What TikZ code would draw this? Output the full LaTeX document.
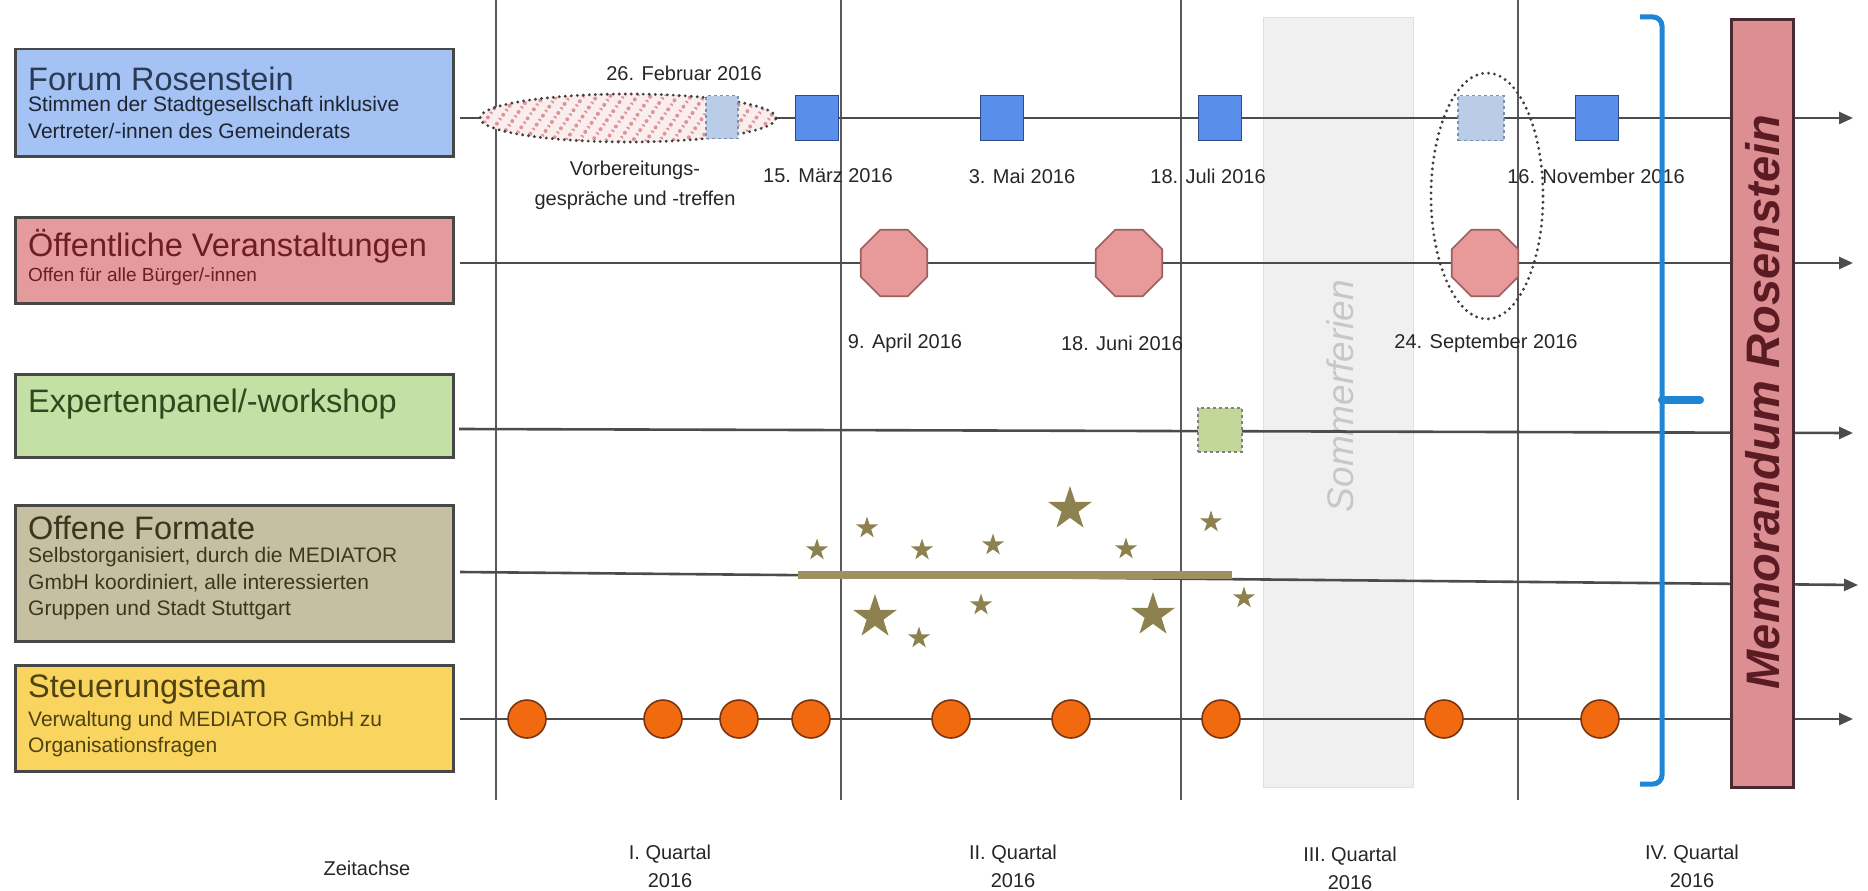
\documentclass[tikz,border=0pt]{standalone}
\usepackage{fontspec}
\setmainfont{Liberation Sans}
\usetikzlibrary{shapes.geometric,patterns.meta,arrows.meta}
\definecolor{boxborder}{HTML}{474747}
\definecolor{forumfill}{HTML}{A4C2F4}
\definecolor{forumtext}{HTML}{2B3A55}
\definecolor{forumsub}{HTML}{1E2430}
\definecolor{oefffill}{HTML}{E59A9B}
\definecolor{oefftext}{HTML}{6E1E22}
\definecolor{expfill}{HTML}{C5E0A5}
\definecolor{exptext}{HTML}{2D4A1E}
\definecolor{offfill}{HTML}{C6C0A2}
\definecolor{offtext}{HTML}{3B3620}
\definecolor{steuerfill}{HTML}{F9D45F}
\definecolor{steuertext}{HTML}{4D4210}
\definecolor{sqfill}{HTML}{5A8EEB}
\definecolor{sqborder}{HTML}{2F4C8C}
\definecolor{lightfill}{HTML}{B9CDE8}
\definecolor{lightborder}{HTML}{7E8FAA}
\definecolor{expsq}{HTML}{C4D79B}
\definecolor{octfill}{HTML}{E8999A}
\definecolor{octborder}{HTML}{9A5F5F}
\definecolor{dotfill}{HTML}{F26A10}
\definecolor{dotborder}{HTML}{7A3510}
\definecolor{starfill}{HTML}{8E8150}
\definecolor{barcol}{HTML}{9E9060}
\definecolor{hatchbg}{HTML}{FAEDED}
\definecolor{hatchline}{HTML}{DE9397}
\definecolor{bracketblue}{HTML}{1F86D6}
\definecolor{memofill}{HTML}{DC8E93}
\definecolor{memoborder}{HTML}{4A2A30}
\definecolor{memotext}{HTML}{5A1C22}
\begin{document}
\begin{tikzpicture}[x=1pt,y=-1pt,
  lanebox/.style={draw=boxborder,line width=2.5pt,inner sep=0pt,anchor=north west,minimum width=438pt},
  ttl/.style={anchor=west,inner sep=0pt,font=\fontsize{32.5}{36}\selectfont},
  subt/.style={anchor=west,inner sep=0pt,align=left,font=\fontsize{21}{26.5}\selectfont},
  lbl/.style={inner sep=0pt,align=center,text=black!85,font=\fontsize{20}{28}\selectfont},
  vline/.style={draw=black!65,line width=1.6pt},
  tl/.style={draw=black!70,line width=2.6pt,-{Triangle[length=14pt,width=12pt]}},
  fsq/.style={rectangle,draw=sqborder,fill=sqfill,line width=1.6pt,minimum width=43pt,minimum height=45pt,inner sep=0pt},
  fsqlight/.style={rectangle,draw=lightborder,fill=lightfill,dashed,line width=1.4pt,minimum width=46pt,minimum height=45pt,inner sep=0pt},
  oct/.style={regular polygon,regular polygon sides=8,minimum size=72pt,inner sep=0pt,fill=octfill,draw=octborder,line width=1.6pt},
  dot/.style={circle,minimum size=38pt,inner sep=0pt,fill=dotfill,draw=dotborder,line width=1.6pt},
  bigstar/.style={star,star points=5,star point ratio=2.6,minimum size=46pt,inner sep=0pt,fill=starfill,draw=none},
  smallstar/.style={bigstar,minimum size=23pt},
  dotted ring/.style={draw=black!75,line width=3.2pt,dash pattern=on 0pt off 6pt,line cap=round},
]
\useasboundingbox (0,0) rectangle (1868,891);

% summer holidays band
\node[draw=black!12,fill=black!6,minimum width=150pt,minimum height=770pt,inner sep=0pt,anchor=north west] (ferien) at (1263,17) {};
\node[rotate=90,text=black!22,inner sep=0pt,font=\fontsize{37}{40}\selectfont\itshape] (ferientxt) at (1340,396) {Sommerferien};

% quarter lines
\draw[vline] (496,0) -- (496,800);
\draw[vline] (841,0) -- (841,800);
\draw[vline] (1181,0) -- (1181,800);
\draw[vline] (1518,0) -- (1518,800);

% lane boxes
\node[lanebox,fill=forumfill,minimum height=107pt] (forum) at (14,48) {};
\node[ttl,text=forumtext] (forumT) at (28,79) {Forum Rosenstein};
\node[subt,text=forumsub] (forumS) at (28,117.5) {Stimmen der Stadtgesellschaft inklusive\\Vertreter/-innen des Gemeinderats};

\node[lanebox,fill=oefffill,minimum height=86pt] (oeff) at (14,216) {};
\node[ttl,text=oefftext] (oeffT) at (28,246) {Öffentliche Veranstaltungen};
\node[subt,text=oefftext,font=\fontsize{19}{24}\selectfont] (oeffS) at (28,277) {Offen für alle Bürger/-innen};

\node[lanebox,fill=expfill,minimum height=83pt] (exp) at (14,373) {};
\node[ttl,text=exptext] (expT) at (28,404) {Expertenpanel/-workshop};

\node[lanebox,fill=offfill,minimum height=136pt] (off) at (14,504) {};
\node[ttl,text=offtext] (offT) at (28,528) {Offene Formate};
\node[subt,text=offtext] (offS) at (28,584) {Selbstorganisiert, durch die MEDIATOR\\GmbH koordiniert, alle interessierten\\Gruppen und Stadt Stuttgart};

\node[lanebox,fill=steuerfill,minimum height=106pt] (steuer) at (14,664) {};
\node[ttl,text=steuertext] (steuerT) at (28,690) {Steuerungsteam};
\node[subt,text=steuertext] (steuerS) at (28,734) {Verwaltung und MEDIATOR GmbH zu\\Organisationsfragen};

% timelines
\coordinate (f0) at (460,118);  \coordinate (f1) at (1853,118);
\coordinate (o0) at (460,263);  \coordinate (o1) at (1853,263);
\coordinate (e0) at (459,429);  \coordinate (e1) at (1853,433);
\coordinate (p0) at (460,572);  \coordinate (p1) at (1858,585);
\coordinate (s0) at (460,719);  \coordinate (s1) at (1853,719);
\draw[tl] (f0) -- (f1);
\draw[tl] (o0) -- (o1);
\draw[tl] (e0) -- (e1);
\draw[tl] (p0) -- (p1);
\draw[tl] (s0) -- (s1);

% Forum Rosenstein row
\node[ellipse,minimum width=296pt,minimum height=48pt,inner sep=0pt,
      preaction={fill=hatchbg},
      pattern={Lines[angle=55,distance=11pt,line width=4pt]},pattern color=hatchline,
      dotted ring] (prep) at (628,118) {};
\node[fsqlight,minimum width=32pt,minimum height=43pt] (feb) at (722,117) {};
\node[fsq] (m1) at (817,118) {};
\node[fsq] (m2) at (1002,118) {};
\node[fsq] (m3) at (1220,118) {};
\node[fsqlight] (sep) at (1481,118) {};
\node[fsq] (m4) at (1597,118) {};

\node[lbl] (febL) at (684,73) {26. Februar 2016};
\node[lbl,font=\fontsize{20}{30}\selectfont] (prepL) at (635,185) {Vorbereitungs-\\gespräche und -treffen};
\node[lbl] (m1L) at (828,176) {15. März 2016};
\node[lbl] (m2L) at (1022,176) {3. Mai 2016};
\node[lbl] (m3L) at (1208,176) {18. Juli 2016};
\node[lbl] (m4L) at (1596,176) {16. November 2016};

% public events row
\node[oct] (v1) at (894,263) {};
\node[oct] (v2) at (1129,263) {};
\node[oct] (v3) at (1485,263) {};
\node[lbl] (v1L) at (905,343) {9. April 2016};
\node[lbl] (v2L) at (1122,343) {18. Juni 2016};
\node[lbl] (v3L) at (1486,343) {24. September 2016};
\node[ellipse,minimum width=112pt,minimum height=246pt,inner sep=0pt,dotted ring] (septgroup) at (1487,196) {};

% expert row
\node[fsqlight,fill=expsq,draw=black!50,minimum width=44pt,minimum height=44pt] (ex1) at (1220,430) {};

% open formats row
\coordinate (b0) at (798,575); \coordinate (b1) at (1232,575);
\draw[barcol,line width=8pt] (b0) -- (b1);
\node[smallstar] (st1) at (817,550) {};
\node[smallstar] (st2) at (867,528) {};
\node[smallstar] (st3) at (922,550) {};
\node[smallstar] (st4) at (993,545) {};
\node[bigstar] (st5) at (1070,509) {};
\node[smallstar] (st6) at (1126,549) {};
\node[smallstar] (st7) at (1211,522) {};
\node[bigstar] (st8) at (875,617) {};
\node[smallstar] (st9) at (981,605) {};
\node[smallstar] (st10) at (919,638) {};
\node[bigstar] (st11) at (1153,615) {};
\node[smallstar] (st12) at (1244,598) {};

% steering team row
\foreach \x [count=\i] in {527,663,739,811,951,1071,1221,1444,1600}
  \node[dot] (d\i) at (\x,719) {};

% bracket
\draw[bracketblue,line width=5pt,rounded corners=9pt] (1640,17) -- (1662,17) -- (1662,784) -- (1640,784);
\coordinate (brk) at (1662,400); \coordinate (brt) at (1700,400);
\draw[bracketblue,line width=8pt,line cap=round] (brk) -- (brt);

% memorandum
\node[draw=memoborder,fill=memofill,line width=3pt,minimum width=62pt,minimum height=768pt,inner sep=0pt,anchor=north west] (memo) at (1730,18) {};
\node[rotate=90,text=memotext,inner sep=0pt,font=\fontsize{47}{52}\selectfont\bfseries\itshape] (memoT) at (1763,402) {Memorandum Rosenstein};

% axis labels
\node[lbl] (zeit) at (367,868) {Zeitachse};
\node[lbl] (q1) at (670,866) {I. Quartal\\2016};
\node[lbl] (q2) at (1013,866) {II. Quartal\\2016};
\node[lbl] (q3) at (1350,868) {III. Quartal\\2016};
\node[lbl] (q4) at (1692,866) {IV. Quartal\\2016};
\end{tikzpicture}
\end{document}
